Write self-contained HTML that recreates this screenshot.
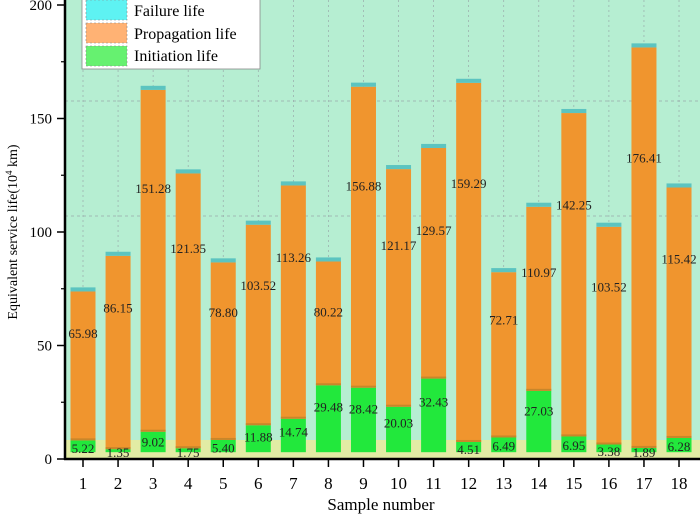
<!DOCTYPE html>
<html><head><meta charset="utf-8"><style>
body{margin:0;background:#fff;}
svg{display:block;font-family:"Liberation Serif",serif;}
</style></head><body>
<svg id="chart" width="700" height="519" viewBox="0 0 700 519">
<rect x="65" y="0" width="635" height="459" fill="#b6eed2"/>
<g id="grid"></g>
<rect x="65" y="440" width="635" height="19" fill="#e2eca4"/>
<g id="bars"></g>
<g id="labels"></g>
<g id="axes"></g>
<text transform="translate(17,232) rotate(-90)" text-anchor="middle" font-size="14">Equivalent service life(10<tspan font-size="9" dy="-5">4</tspan><tspan dy="5"> km)</tspan></text>
<text x="381" y="510" text-anchor="middle" font-size="17">Sample number</text>
<g>
<rect x="82" y="-2" width="178" height="71" fill="#fff" stroke="#888" stroke-width="0.8"/>
<g><rect x="86" y="0" width="41" height="20" fill="#5ef2f2" stroke="#888" stroke-dasharray="2,2" stroke-width="0.6"/><text x="134" y="16" font-size="16">Failure life</text></g>
<g><rect x="86" y="23" width="41" height="20" fill="#ffb274" stroke="#888" stroke-dasharray="2,2" stroke-width="0.6"/><text x="134" y="39" font-size="16">Propagation life</text></g>
<g><rect x="86" y="46" width="41" height="20" fill="#66f170" stroke="#888" stroke-dasharray="2,2" stroke-width="0.6"/><text x="134" y="61" font-size="16">Initiation life</text></g>
</g>
</svg>
<script>
const categories=["1","2","3","4","5","6","7","8","9","10","11","12","13","14","15","16","17","18"];
const initiation=[5.22,1.35,9.02,1.75,5.40,11.88,14.74,29.48,28.42,20.03,32.43,4.51,6.49,27.03,6.95,3.38,1.89,6.28];
const propagation=[65.98,86.15,151.28,121.35,78.80,103.52,113.26,80.22,156.88,121.17,129.57,159.29,72.71,110.97,142.25,103.52,176.41,115.42];
const totalLife=[75.6,91.3,164.4,127.6,88.4,105.0,122.3,88.8,165.8,129.5,138.8,167.5,84.1,112.9,154.2,104.1,183.1,121.4];
const failure=[1.8,1.8,1.8,1.8,1.8,1.8,1.8,1.8,1.8,1.8,1.8,1.8,1.8,1.8,1.8,1.8,1.8,1.8];
const yTicks=[0,50,100,150,200];
const baseOffset=3;
const NS="http://www.w3.org/2000/svg";
const y=v=>459-v*2.27;
const x=i=>83+i*35.06;
const bw=25;
function mk(tag,attrs,parent){const e=document.createElementNS(NS,tag);for(const k in attrs)e.setAttribute(k,attrs[k]);parent.appendChild(e);return e;}
const grid=document.getElementById('grid'),bars=document.getElementById('bars'),labels=document.getElementById('labels'),axes=document.getElementById('axes');
[101,216].forEach(py=>{
  const h=mk('line',{x1:65,x2:700,y1:py,y2:py,stroke:'#9aa',"stroke-width":0.7,"stroke-dasharray":"3,3"},grid);
  
  
});
categories.forEach((c,i)=>{
  const gl=mk('line',{x1:x(i),x2:x(i),y1:0,y2:459,stroke:'#9aa',"stroke-width":0.7,"stroke-dasharray":"2,3"},grid);
  
  
  const b0=baseOffset,b1=b0+initiation[i],b3=totalLife[i],b2=b3-failure[i];
  const r1=mk('rect',{x:x(i)-bw/2,y:y(b1),width:bw,height:y(b0)-y(b1),fill:'#22e83c'},bars);
  
  
  const r2=mk('rect',{x:x(i)-bw/2,y:y(b2),width:bw,height:Math.max(0,y(b1)-y(b2)),fill:'#f0952e'},bars);
  
  
  const sep=mk('rect',{x:x(i)-bw/2,y:y(b1)-2,width:bw,height:2,fill:'#c8862a'},bars);
  
  
  const r3=mk('rect',{x:x(i)-bw/2,y:y(b3),width:bw,height:y(b2)-y(b3),fill:'#5cc4c0'},bars);
  
  
  const t1=mk('text',{x:x(i),y:y(totalLife[i]*0.72+1)+5,"text-anchor":"middle","font-size":13,fill:'#222'},labels);
  t1.textContent=propagation[i].toFixed(2);
  
  
  const t2=mk('text',{x:x(i),y:y(Math.max(initiation[i]*0.75+1,3))+5,"text-anchor":"middle","font-size":13,fill:'#222'},labels);
  t2.textContent=initiation[i].toFixed(2);
  
  
  const tk=mk('line',{x1:x(i),x2:x(i),y1:459,y2:467,stroke:'#000',"stroke-width":1.5},axes);
  
  
  const tl=mk('text',{x:x(i),y:489,"text-anchor":"middle","font-size":17},axes);
  tl.textContent=c;
  
  
});
yTicks.forEach(v=>{
  const t=mk('line',{x1:57,x2:65,y1:y(v),y2:y(v),stroke:'#000',"stroke-width":1.5},axes);
  
  
  const l=mk('text',{x:52,y:y(v)+5,"text-anchor":"end","font-size":15},axes);
  l.textContent=v;
  
  
  if(v<200){const m=mk('line',{x1:61,x2:65,y1:y(v+25),y2:y(v+25),stroke:'#000',"stroke-width":1.2},axes);
  
  }
});
const ya=mk('line',{x1:65,x2:65,y1:0,y2:460,stroke:'#000',"stroke-width":2.5},axes);


const xa=mk('line',{x1:64,x2:700,y1:459,y2:459,stroke:'#000',"stroke-width":2.5},axes);


</script>
</body></html>
